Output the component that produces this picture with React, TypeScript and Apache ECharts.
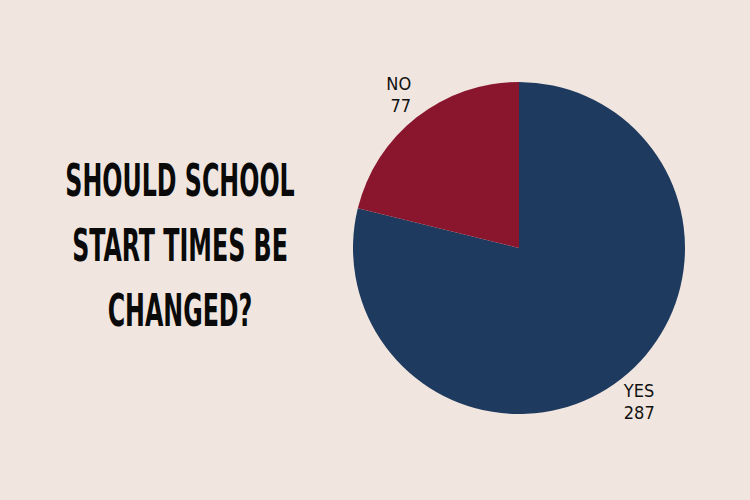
import { useEffect, useRef } from "react";
import * as echarts from "echarts";

const answers = ["YES", "NO"];
const counts = [287, 77];
const sliceColors = ["#1f3a5f", "#89162d"];
const titleLines = ["SHOULD SCHOOL", "START TIMES BE", "CHANGED?"];

const FONT = '"DejaVu Sans Condensed", "DejaVu Sans", sans-serif';

export default function App() {
  const ref = useRef<HTMLDivElement>(null);

  useEffect(() => {
    if (!ref.current) return;
    document.body.style.margin = "0";
    const chart = echarts.init(ref.current, null, { renderer: "svg" });

    chart.setOption({
      animation: false,
      backgroundColor: "#f0e6df",
      graphic: [
        {
          // title squeezed horizontally to imitate a tall display face
          type: "text",
          x: 180,
          y: 246,
          scaleX: 0.6,
          style: {
            text: titleLines.join("\n"),
            font: `bold 44px ${FONT}`,
            lineHeight: 65,
            fill: "#0a0a0a",
            align: "center",
            verticalAlign: "middle",
          },
        },
      ],
      series: [
        {
          type: "pie",
          center: [519, 248],
          radius: 166,
          startAngle: 90,
          clockwise: true,
          data: answers.map((a, i) => ({
            name: a,
            value: counts[i],
            itemStyle: { color: sliceColors[i] },
          })),
          label: {
            show: true,
            position: "outside",
            formatter: "{b}\n{c}",
            fontFamily: FONT,
            fontSize: 18,
            lineHeight: 22,
            color: "#111",
            distanceToLabelLine: 0,
          },
          labelLine: { show: false, length: 29, length2: 0 },
          labelLayout: (p: any) => ({
            dx: p.align === "right" ? p.labelRect.width / 2 : -p.labelRect.width / 2,
          }),
          emphasis: { disabled: true },
        },
      ],
    });

    return () => chart.dispose();
  }, []);

  return <div ref={ref} style={{ width: 750, height: 500 }} />;
}
